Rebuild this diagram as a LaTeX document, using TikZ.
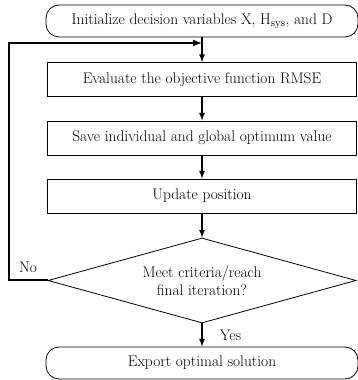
\documentclass[tikz,border=0pt]{standalone}
\usepackage{tikz}
\usetikzlibrary{arrows,shapes.geometric}

\begin{document}
\begin{tikzpicture}[x=1pt,y=1pt]
\tikzstyle{every node}=[font=\fontsize{15.4}{18}\selectfont, inner sep=1pt]
\tikzstyle{term}=[draw, line width=.8pt, rounded corners=13pt, minimum width=312pt, minimum height=32pt]
\tikzstyle{proc}=[draw, line width=.8pt, minimum width=309pt, minimum height=34pt]
\tikzstyle{test}=[draw, line width=.8pt, diamond, shape aspect=3.6, minimum width=308pt, minimum height=85pt, align=center]
\tikzstyle{flow}=[line width=1.6pt, -latex]
\useasboundingbox (0,0) rectangle (358,380);
\draw (202,359) node (init) [term] {Initialize decision variables X, H\textsubscript{sys}, and D};
\draw (202,300.5) node (eval) [proc] {Evaluate the objective function RMSE};
\draw (202,242) node (save) [proc] {Save individual and global optimum value};
\draw (202,184) node (update) [proc] {Update position};
\draw (202,99.5) node (decide) [test] {Meet criteria/reach\\final iteration?};
\draw (202,17) node (export) [term] {Export optimal solution};
\coordinate (corner) at (9,99.5);
\coordinate (back) at (202,337);
\draw[flow] (init) -- (eval);
\draw[flow] (eval) -- (save);
\draw[flow] (save) -- (update);
\draw[flow] (update) -- (decide);
\draw[flow] (decide) -- node (yes) [right=16pt] {Yes} (export);
\draw[flow, line width=2pt] (decide.west) -- (corner) |- (back);
\draw (corner) ++(19,13) node (no) {No};
\end{tikzpicture}
\end{document}
